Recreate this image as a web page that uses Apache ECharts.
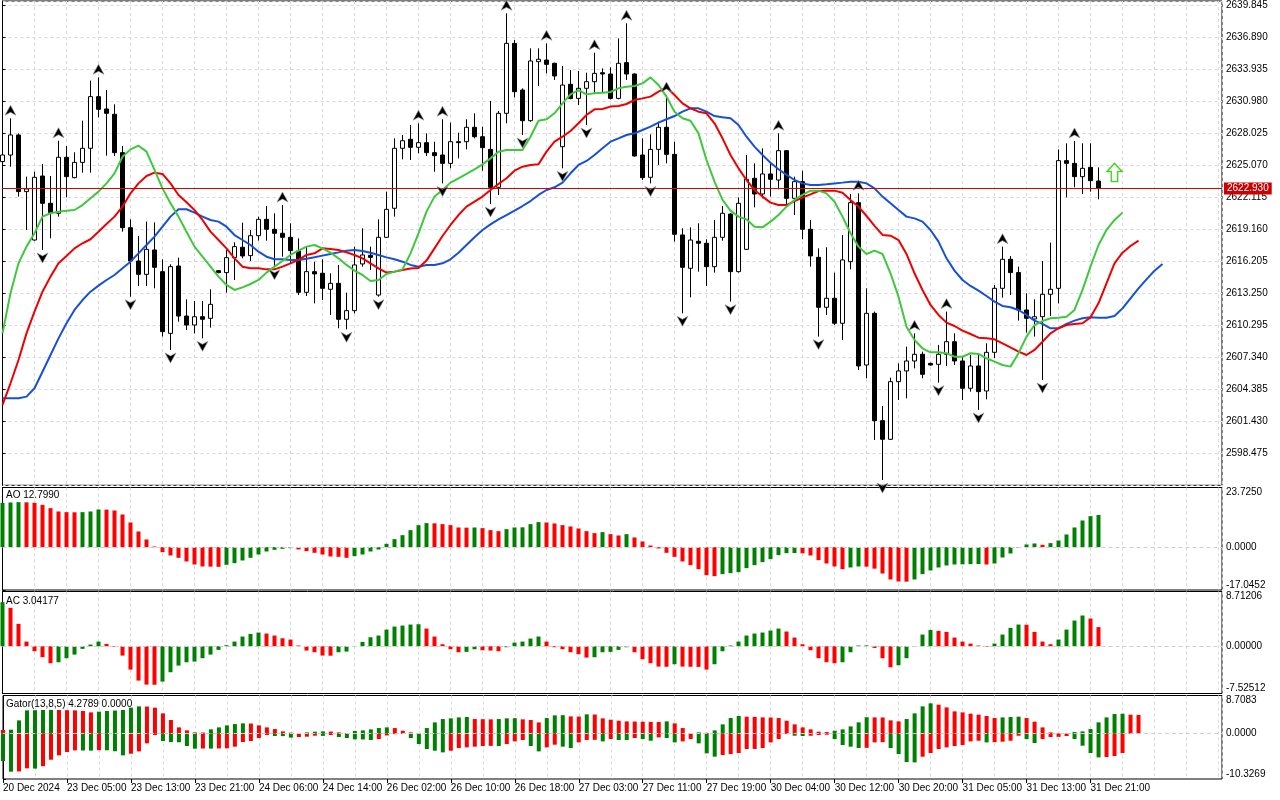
<!DOCTYPE html>
<html><head><meta charset="utf-8">
<script src="https://cdn.jsdelivr.net/npm/echarts@6/dist/echarts.min.js"></script>
<style>html,body{margin:0;padding:0;background:#fff}#c{width:1280px;height:800px}</style>
</head><body><div id="c"></div>
<script>
const tickLabels = ["20 Dec 2024","23 Dec 05:00","23 Dec 13:00","23 Dec 21:00","24 Dec 06:00","24 Dec 14:00","26 Dec 02:00","26 Dec 10:00","26 Dec 18:00","27 Dec 03:00","27 Dec 11:00","27 Dec 19:00","30 Dec 04:00","30 Dec 12:00","30 Dec 20:00","31 Dec 05:00","31 Dec 13:00","31 Dec 21:00"];

const opens = [2625.41,2626.02,2627.87,2622.64,2618.17,2624.08,2621.56,2620.64,2625.81,2623.93,
2625.34,2626.64,2631.41,2630.27,2629.78,2626.24,2619.31,2616.23,2615.00,2617.25,
2615.25,2609.55,2615.77,2611.15,2610.32,2611.09,2610.94,2615.34,2615.16,2616.54,
2617.50,2616.73,2618.57,2620.08,2619.16,2618.79,2618.42,2617.16,2613.34,2615.25,
2615.10,2613.62,2614.17,2610.85,2611.65,2615.96,2616.76,2613.09,2618.42,2621.10,
2626.64,2627.47,2626.73,2627.16,2626.24,2626.02,2625.25,2627.25,2627.25,2628.58,
2627.71,2626.54,2623.04,2629.87,2636.33,2632.02,2629.19,2634.64,2634.79,2634.49,
2626.79,2632.55,2631.25,2632.18,2632.79,2633.62,2633.50,2631.25,2634.55,2633.50,
2626.02,2623.96,2626.54,2628.58,2626.08,2618.64,2615.56,2618.05,2617.87,2615.71,
2618.42,2620.57,2615.25,2617.31,2623.87,2622.42,2624.27,2623.71,2626.42,2622.02,
2623.56,2619.16,2616.57,2611.96,2612.79,2610.48,2616.17,2621.62,2606.63,2611.40,
2601.49,2599.77,2605.09,2606.08,2607.00,2607.62,2606.78,2606.69,2607.62,2608.78,
2607.00,2604.48,2606.54,2604.23,2607.80,2613.71,2616.39,2615.16,2611.71,2610.88,
2611.09,2613.16,2613.71,2625.50,2625.25,2624.02,2624.88,2623.62];
const highs = [2626.33,2629.41,2628.02,2624.02,2624.48,2625.19,2624.08,2627.34,2626.85,2626.27,
2629.19,2632.89,2633.19,2632.02,2630.70,2626.85,2620.08,2618.54,2619.87,2619.80,
2616.39,2615.93,2616.54,2612.69,2612.54,2612.54,2613.62,2615.40,2617.25,2617.96,
2619.77,2619.10,2620.33,2621.31,2620.64,2621.40,2619.71,2618.33,2617.56,2616.17,
2616.39,2615.10,2615.87,2613.31,2617.56,2619.25,2617.56,2620.08,2622.64,2627.56,
2627.87,2628.79,2628.95,2628.02,2627.25,2629.32,2629.01,2628.08,2629.32,2629.87,
2628.64,2631.01,2630.08,2639.10,2636.64,2632.18,2635.87,2635.87,2636.33,2634.55,
2634.24,2633.87,2633.78,2633.62,2635.47,2634.02,2634.12,2636.79,2638.18,2633.56,
2627.56,2627.93,2629.10,2631.56,2627.25,2619.25,2619.34,2619.71,2618.24,2620.02,
2621.31,2620.64,2622.11,2626.02,2625.25,2626.64,2625.31,2628.02,2626.48,2624.02,
2624.57,2620.02,2617.40,2617.50,2615.16,2618.64,2622.42,2622.48,2613.71,2611.56,
2602.84,2605.46,2606.78,2608.32,2609.55,2607.86,2606.85,2608.48,2611.56,2609.55,
2607.40,2607.56,2607.56,2608.63,2614.02,2617.56,2616.70,2615.71,2613.25,2612.69,
2616.23,2617.93,2626.54,2627.10,2627.32,2627.10,2627.10,2624.88];
const lows = [2625.10,2624.94,2622.18,2619.09,2618.11,2617.25,2618.33,2620.33,2622.11,2623.87,
2624.39,2624.39,2629.50,2625.96,2625.93,2618.94,2612.94,2613.93,2613.93,2613.71,
2609.25,2608.02,2610.63,2609.86,2609.55,2609.09,2610.08,2615.10,2613.31,2614.48,
2616.48,2616.23,2618.11,2618.11,2615.71,2616.63,2616.02,2613.09,2613.00,2612.32,
2612.63,2611.25,2610.02,2609.92,2611.40,2615.71,2615.40,2612.94,2618.36,2620.33,
2625.62,2625.56,2626.18,2625.93,2624.48,2623.40,2624.79,2625.71,2626.54,2627.56,
2624.57,2621.50,2622.33,2628.95,2631.35,2627.87,2629.10,2632.39,2633.56,2632.95,
2624.79,2631.16,2630.64,2628.79,2631.78,2631.78,2631.16,2631.16,2632.95,2625.87,
2623.71,2623.40,2625.10,2625.25,2618.02,2611.40,2612.88,2615.25,2613.93,2615.16,
2618.11,2612.48,2615.16,2617.25,2621.19,2622.02,2622.18,2622.85,2621.50,2620.48,
2618.24,2615.71,2609.25,2611.25,2610.32,2608.94,2615.46,2606.17,2605.40,2599.71,
2596.01,2599.71,2603.40,2603.55,2606.32,2605.40,2606.57,2605.00,2606.54,2606.63,
2603.40,2604.17,2602.48,2603.46,2607.25,2612.85,2613.09,2610.73,2609.62,2609.25,
2605.24,2611.15,2612.32,2622.11,2623.04,2622.42,2622.64,2621.93];
const closes = [2626.02,2627.87,2622.64,2622.88,2623.96,2621.56,2620.70,2625.81,2624.02,2625.34,
2626.64,2631.41,2630.24,2629.87,2626.24,2619.31,2616.23,2615.00,2617.31,2615.65,
2609.71,2615.71,2611.15,2610.32,2611.09,2610.85,2612.23,2615.16,2616.54,2617.56,
2616.70,2618.57,2620.08,2619.16,2618.79,2618.42,2617.19,2613.34,2615.25,2615.04,
2613.71,2614.17,2610.85,2611.65,2615.87,2616.79,2616.57,2618.42,2621.00,2626.64,
2627.34,2626.73,2627.16,2626.24,2625.96,2625.25,2627.25,2627.16,2628.58,2627.71,
2626.70,2623.04,2629.87,2636.33,2631.87,2629.19,2634.70,2634.86,2634.39,2633.32,
2632.48,2631.25,2632.18,2632.79,2633.56,2633.50,2631.25,2634.49,2633.50,2625.93,
2623.93,2626.54,2628.58,2626.08,2618.70,2615.65,2618.17,2617.87,2615.71,2618.42,
2620.64,2615.25,2621.56,2623.78,2622.42,2624.27,2623.78,2626.42,2622.02,2623.56,
2619.16,2616.70,2611.96,2612.79,2610.48,2616.33,2621.62,2606.54,2611.40,2601.49,
2599.77,2605.09,2606.08,2607.00,2607.62,2605.77,2606.63,2607.62,2608.78,2607.00,
2604.48,2606.54,2604.17,2607.80,2613.71,2616.39,2615.16,2611.71,2610.94,2611.09,
2613.16,2613.62,2625.50,2625.25,2624.02,2624.79,2623.65,2622.93];

// Alligator lines as drawn (already shifted): jaw(blue), teeth(red), lips(green)
const jaw = [2603.55,2603.55,2603.55,2603.71,2604.48,2606.01,2607.55,2609.09,2610.48,2611.71,
2612.63,2613.40,2613.96,2614.48,2614.94,2615.56,2616.17,2616.94,2617.71,2618.48,
2619.40,2620.33,2621.01,2621.01,2620.70,2620.33,2620.02,2619.87,2619.40,2618.63,
2618.17,2617.71,2617.09,2616.63,2616.39,2616.39,2616.33,2616.33,2616.45,
2616.57,2616.73,2616.88,2617.03,2617.19,2617.25,2617.16,2617.00,2616.79,2616.57,
2616.39,2616.17,2615.87,2615.71,2615.87,2615.87,2616.02,2616.39,2617.00,2617.71,
2618.42,2619.10,2619.62,2620.08,2620.48,2620.89,2621.31,2621.77,2622.33,2622.79,
2623.04,2623.47,2624.33,2625.10,2625.47,2626.02,2626.64,2627.25,
2627.56,2627.87,2628.02,2628.33,2628.64,2629.01,2629.32,2629.62,2630.02,2630.33,
2630.33,2630.02,2629.62,2629.50,2629.41,2628.79,2627.71,2626.79,2626.02,2625.31,
2624.70,2624.18,2623.71,2623.40,2623.25,2623.25,2623.31,2623.40,2623.47,2623.56,
2623.56,2623.40,2622.94,2622.18,2621.56,2620.94,2620.33,2620.17,2619.87,
2619.10,2618.02,2616.48,2615.34,2614.48,2613.93,2613.49,2613.00,2612.48,2612.08,
2611.96,2611.71,2611.25,2610.73,2610.42,2610.02,2610.02,2610.42,2610.73,2610.94,
2611.03,2611.00,2611.00,2611.15,2611.86,2612.79,2613.71,2614.54,2615.34,2615.96];
const teeth = [2602.94,2604.94,2607.09,2609.55,2611.56,2613.40,2614.79,2616.02,2616.70,2617.40,
2617.87,2618.24,2618.94,2619.65,2620.33,2621.25,2622.48,2623.40,2624.08,2624.39,
2624.27,2623.40,2622.33,2621.65,2620.94,2620.02,2618.94,2618.17,2617.40,2616.48,
2615.71,2615.56,2615.56,2615.46,2615.46,2615.71,2616.02,2616.33,2616.79,
2616.94,2617.40,2617.34,2617.25,2617.03,2616.79,2616.48,2616.02,2615.56,2615.16,
2615.25,2615.40,2615.53,2615.59,2616.27,2617.40,2618.54,2619.56,2620.48,2621.25,
2621.71,2622.18,2622.79,2623.34,2623.87,2624.57,2624.94,2625.10,2625.16,2626.33,
2627.25,2627.71,2628.24,2628.95,2629.72,2630.24,2630.27,2630.49,
2630.55,2630.73,2631.10,2631.25,2631.41,2631.87,2632.27,2631.56,2630.79,2630.33,
2630.02,2629.87,2628.95,2627.56,2626.02,2624.79,2623.71,2622.79,2622.18,2621.62,
2621.40,2621.40,2621.77,2622.08,2622.39,2622.70,2622.73,2622.73,2622.54,2621.87,
2621.25,2620.39,2619.47,2618.64,2618.57,2618.17,2616.88,2615.10,2613.56,
2612.17,2611.25,2610.54,2610.23,2609.80,2609.49,2609.15,2609.09,2609.00,2608.63,
2608.26,2607.86,2607.55,2608.02,2608.78,2609.55,2610.02,2610.32,2610.42,2610.48,
2611.03,2612.32,2614.17,2616.02,2617.00,2617.62,2618.11];
const lips = [2609.55,2613.25,2616.02,2617.56,2618.79,2620.33,2620.64,2620.79,2620.88,2620.94,
2621.40,2622.02,2622.64,2623.40,2624.33,2625.87,2626.54,2626.88,2626.33,2624.64,
2622.94,2621.56,2620.33,2618.94,2617.56,2616.63,2615.71,2614.79,2614.02,2613.56,
2613.80,2614.11,2614.48,2615.16,2615.71,2616.23,2616.79,2617.19,2617.56,
2617.71,2617.40,2617.00,2616.48,2615.87,2615.34,2614.94,2614.39,2614.48,2615.03,
2615.25,2615.46,2616.94,2618.79,2620.79,2622.18,2622.79,2623.47,2623.87,2624.27,
2624.70,2625.16,2625.71,2626.33,2626.48,2626.48,2626.48,2627.71,2629.19,2629.32,
2629.87,2630.79,2631.62,2632.02,2631.62,2631.72,2631.78,2631.84,
2632.18,2632.33,2632.39,2632.64,2633.19,2632.49,2631.41,2630.02,2629.41,2629.19,
2628.02,2625.56,2623.56,2621.87,2620.88,2620.33,2620.08,2619.40,2619.34,2619.87,
2620.48,2621.25,2621.87,2622.33,2622.73,2622.73,2622.48,2621.71,2620.33,2618.79,
2617.56,2616.88,2617.19,2616.88,2615.10,2612.94,2610.17,2608.94,2608.17,
2607.80,2607.80,2607.71,2607.40,2607.40,2607.71,2607.65,2607.25,2606.94,2606.63,
2606.48,2607.71,2609.25,2610.32,2610.69,2610.94,2611.00,2611.09,2611.71,2613.56,
2615.71,2617.71,2619.10,2620.02,2620.70];

const upFractals = [1,7,12,35,52,55,63,68,74,78,83,97,107,114,118,125,134];
const downFractals = [5,16,21,25,34,43,47,55,61,65,70,73,81,85,91,102,110,117,122,130];
const signalIdx = [139];
const signalPrice = [2624.41];

const ao = [17.64,17.77,17.90,17.83,17.64,16.84,15.51,14.19,13.92,13.86,
13.92,14.19,14.98,14.92,14.59,12.99,9.81,6.23,3.05,0.27,
-1.99,-3.32,-4.24,-5.70,-6.90,-7.69,-7.76,-7.82,-7.03,-6.36,
-5.30,-4.24,-2.92,-1.72,-1.06,-0.66,-0.40,-0.93,-1.59,-2.25,
-2.92,-3.71,-3.85,-4.24,-3.58,-2.92,-1.72,-0.93,1.33,3.18,
4.77,6.76,8.75,9.55,9.48,9.15,8.75,7.82,7.76,7.82,
7.56,6.76,6.36,7.16,7.82,7.89,9.15,9.95,9.81,9.41,
8.75,8.22,7.43,6.36,5.57,5.97,5.17,4.64,5.17,3.85,
2.25,0.66,-0.53,-2.25,-3.85,-5.70,-7.16,-8.75,-11.14,-11.54,
-10.74,-10.34,-9.95,-8.35,-7.16,-5.97,-4.77,-3.18,-2.39,-2.32,
-2.45,-3.32,-5.17,-6.50,-7.69,-8.75,-8.09,-7.69,-7.76,-8.55,
-10.48,-12.86,-13.66,-13.72,-12.86,-10.74,-9.28,-8.09,-7.29,-6.90,
-6.83,-6.76,-6.70,-6.90,-6.50,-4.11,-2.52,-0.27,1.06,1.46,
0.93,1.59,2.65,5.04,7.82,10.61,12.33,12.799];
const ac = [7.01,6.11,3.56,0.74,-0.80,-1.75,-2.71,-2.55,-1.91,-1.33,
-0.42,0.27,0.74,0.37,-0.11,-1.49,-3.72,-5.47,-6.11,-6.13,
-5.63,-4.14,-3.08,-2.55,-2.44,-1.91,-1.33,-0.58,0.16,0.74,
1.54,1.96,2.18,2.02,1.70,1.27,1.06,0.11,-0.69,-0.96,
-1.49,-1.51,-0.96,-0.85,-0.05,0.69,1.43,1.70,2.65,3.13,
3.29,3.45,3.50,2.81,1.54,0.32,-0.48,-0.96,-0.90,-0.48,
-0.64,-0.69,-0.80,-0.16,0.58,0.74,1.22,1.54,0.74,-0.16,
-0.48,-0.96,-1.27,-1.81,-1.75,-0.96,-0.90,-0.58,-0.16,-0.96,
-2.07,-2.71,-3.24,-3.27,-2.87,-3.24,-3.27,-3.29,-3.72,-2.87,
-0.80,0.11,0.74,1.70,2.02,2.18,2.50,2.81,2.34,1.38,
0.32,-0.64,-1.91,-2.55,-2.71,-2.55,-0.96,0.11,0.13,-0.27,
-1.91,-3.35,-3.03,-1.91,-0.11,1.86,2.60,2.44,2.28,1.38,
0.74,0.42,0.11,-0.11,0.42,1.86,2.92,3.45,3.42,2.28,
0.74,0.32,1.06,2.65,4.09,4.89,4.41,3.04177];
const gatorUp = [0.84,0.91,3.04,5.32,5.36,5.40,5.43,5.40,5.36,5.32,
5.17,4.86,5.02,5.17,5.28,5.40,5.93,6.23,6.19,5.93,
4.64,3.12,1.44,0.76,0.30,0.27,0.99,1.44,1.90,2.20,
2.36,2.32,1.90,1.44,1.06,0.53,0.23,0.08,0.30,0.46,
0.53,0.49,0.30,0.15,0.61,0.76,0.99,1.29,1.44,1.29,
0.68,0.30,0.05,1.29,2.58,3.34,3.50,3.72,3.80,3.34,
3.31,3.27,3.34,3.50,3.53,3.27,3.12,2.58,3.57,4.18,
4.22,3.95,3.91,4.41,4.37,3.50,3.19,2.96,2.81,2.77,
2.74,2.70,2.66,2.81,2.36,1.29,0.15,0.31,0.20,0.76,
2.13,3.57,4.03,3.88,3.84,3.72,3.69,3.57,2.96,2.13,
1.44,0.99,0.46,0.38,0.68,0.99,1.67,2.58,3.76,3.72,
3.70,3.04,2.81,3.34,4.64,6.23,6.92,6.61,6.00,5.09,
4.86,4.56,4.33,4.03,3.57,3.72,3.80,3.88,3.57,2.74,
1.44,0.30,0.08,0.04,0.38,0.53,1.06,2.58,3.72,4.48,
4.56,4.33,4.2789];
const gatorDown = [-6.23,-8.66,-8.60,-7.90,-7.95,-7.40,-5.93,-4.94,-4.18,-3.80,
-3.83,-3.86,-3.75,-3.78,-4.00,-4.94,-4.56,-4.03,-2.20,-0.30,
-1.67,-1.90,-1.95,-2.81,-3.42,-3.38,-3.40,-3.36,-3.34,-2.96,
-1.90,-1.67,-0.99,-0.30,-0.53,-0.55,-0.90,-0.76,-0.68,-0.46,
-0.50,-0.30,-0.76,-0.99,-1.29,-1.32,-1.44,-1.22,-0.40,-0.10,
-0.05,-0.99,-2.36,-3.50,-3.88,-4.26,-3.88,-3.27,-3.12,-2.96,
-2.81,-2.78,-2.83,-2.36,-1.75,-1.44,-2.81,-4.03,-3.12,-2.51,
-2.96,-3.27,-1.98,-1.44,-1.40,-1.75,-1.22,-1.44,-1.46,-0.99,
-1.22,-1.60,-0.84,-0.99,-1.98,-1.75,-1.22,-2.20,-4.48,-5.24,
-4.86,-4.64,-4.41,-3.50,-3.48,-3.27,-1.98,-1.22,-0.08,-0.46,
-0.53,-0.46,-0.30,-0.23,-1.22,-2.58,-2.96,-3.27,-3.23,-1.98,
-1.94,-3.27,-4.64,-6.46,-6.54,-5.24,-4.41,-3.50,-3.12,-2.81,
-2.58,-1.75,-1.60,-1.98,-1.94,-1.82,-1.60,-0.46,-1.22,-2.13,
-1.22,-0.76,-0.72,-0.53,-1.22,-2.74,-4.41,-5.40,-5.32,-5.09,
-4.41];

const priceAxis = {min: 2595.520, max: 2640.242, step: 2.955};
const aoAxis = {min: -17.0452, max: 23.7250};
const acAxis = {min: -7.52512, max: 8.71206};
const gatorAxis = {min: -10.3269, max: 8.7083};

// ---------------------------------------------------------------
const GREEN = '#008000', RED = '#ff0000';
const FONT = '"Liberation Sans", Arial, sans-serif';
const X_MIN = 0, X_MAX = 152.4375;
const GRID_L = 2.5, GRID_R = 58;
const grids = [
  {left: GRID_L, right: GRID_R, top: 1, height: 484.3},
  {left: GRID_L, right: GRID_R, top: 487.5, height: 102.5},
  {left: GRID_L, right: GRID_R, top: 591.5, height: 102},
  {left: GRID_L, right: GRID_R, top: 695.5, height: 83.5}
].map(g => Object.assign(g, {show: true, borderColor: '#000', borderWidth: 1, backgroundColor: 'transparent'}));

const splitStyle = {show: true, lineStyle: {color: '#d9d9d9', type: [3, 3], width: 1}};
const labelIdx = tickLabels.map((_, i) => i * 8);

const xAxes = [0, 1, 2, 3].map(g => ({
  type: 'value', gridIndex: g, min: X_MIN, max: X_MAX, interval: 4, position: 'bottom',
  axisLine: {show: false}, axisTick: {show: false}, axisLabel: {show: false},
  splitLine: splitStyle
}));
xAxes.push({
  type: 'value', gridIndex: 3, min: X_MIN, max: X_MAX, interval: 8, position: 'bottom',
  axisLine: {show: false},
  axisTick: {show: true, length: 4, customValues: labelIdx, lineStyle: {color: '#000'}},
  axisLabel: {show: true, customValues: labelIdx, align: 'left', margin: 4, color: '#000', fontSize: 10, fontFamily: FONT,
    formatter: v => (v % 8 === 0 && tickLabels[v / 8]) ? tickLabels[v / 8] : ''},
  splitLine: {show: false}
});

function subY(gi, rng, dec) {
  const vals = [rng.min, 0, rng.max];
  return {
    type: 'value', gridIndex: gi, position: 'right', min: rng.min, max: rng.max, scale: true,
    axisLine: {show: true, lineStyle: {color: '#000'}},
    axisTick: {show: true, length: 3, customValues: vals, lineStyle: {color: '#000'}},
    axisLabel: {show: true, customValues: vals, margin: 4, color: '#000', fontSize: 10, fontFamily: FONT,
      verticalAlignMinLabel: 'bottom', verticalAlignMaxLabel: 'top',
      formatter: v => (Math.abs(v) < 1e-9 ? 0 : v).toFixed(dec)},
    splitLine: {show: false}
  };
}
const yAxes = [
  {type: 'value', gridIndex: 0, position: 'right', min: priceAxis.min, max: priceAxis.max, interval: priceAxis.step,
   axisLine: {show: true, lineStyle: {color: '#000'}},
   axisTick: {show: true, length: 3, lineStyle: {color: '#000'}},
   axisLabel: {show: true, margin: 4, color: '#000', fontSize: 10, fontFamily: FONT, showMinLabel: false, showMaxLabel: false,
     formatter: v => v.toFixed(3)},
   splitLine: splitStyle},
  subY(1, aoAxis, 4),
  subY(2, acAxis, 5),
  subY(3, gatorAxis, 4)
];

function colorByRise(arr, firstColor, useAbs) {
  return arr.map((v, i) => {
    let c;
    if (i === 0) c = firstColor;
    else {
      const a = useAbs ? Math.abs(v) : v, b = useAbs ? Math.abs(arr[i - 1]) : arr[i - 1];
      c = a > b ? GREEN : RED;
    }
    return {value: [i, v], itemStyle: {color: c}};
  });
}
const zeroLine = {silent: true, symbol: 'none', animation: false, label: {show: false},
  lineStyle: {color: '#cfcfcf', type: [4, 3], width: 1}, data: [{yAxis: 0}]};

const last = closes.length - 1;
const upPath = 'path://M5,0 L10,10 L5,7 L0,10 Z';
const downPath = 'path://M0,0 L5,3 L10,0 L5,10 Z';

const series = [
  {type: 'candlestick', xAxisIndex: 0, yAxisIndex: 0, barWidth: 5, z: 2,
   data: opens.map((o, i) => [i, o, closes[i], lows[i], highs[i]]),
   itemStyle: {color: '#ffffff', color0: '#000000', borderColor: '#000000', borderColor0: '#000000', borderWidth: 1},
   markLine: {silent: true, symbol: 'none', animation: false,
     lineStyle: {color: '#e00000', width: 1, type: 'solid'},
     label: {show: true, position: 'end', distance: 2, formatter: () => closes[last].toFixed(3),
       backgroundColor: '#cc0000', color: '#fff', padding: [1, 3, 1, 3], fontSize: 10, fontFamily: FONT},
     data: [{yAxis: closes[last]}]}},
  {type: 'line', name: 'Jaw', xAxisIndex: 0, yAxisIndex: 0, showSymbol: false, z: 4,
   data: jaw.map((v, i) => [i, v]), lineStyle: {color: '#1650d8', width: 2}},
  {type: 'line', name: 'Teeth', xAxisIndex: 0, yAxisIndex: 0, showSymbol: false, z: 4,
   data: teeth.map((v, i) => [i, v]), lineStyle: {color: '#ee0000', width: 2}},
  {type: 'line', name: 'Lips', xAxisIndex: 0, yAxisIndex: 0, showSymbol: false, z: 4,
   data: lips.map((v, i) => [i, v]), lineStyle: {color: '#3ec83e', width: 2}},
  {type: 'scatter', xAxisIndex: 0, yAxisIndex: 0, z: 5, symbol: upPath, symbolSize: [11, 10], symbolOffset: [0, -8],
   itemStyle: {color: '#000000', opacity: 1, borderColor: '#9a9a9a', borderWidth: 0.6},
   data: upFractals.map(i => [i, highs[i]])},
  {type: 'scatter', xAxisIndex: 0, yAxisIndex: 0, z: 5, symbol: downPath, symbolSize: [11, 10], symbolOffset: [0, 8],
   itemStyle: {color: '#000000', opacity: 1, borderColor: '#9a9a9a', borderWidth: 0.6},
   data: downFractals.map(i => [i, lows[i]])},
  {type: 'scatter', xAxisIndex: 0, yAxisIndex: 0, z: 5,
   symbol: 'path://M7,0 L14,8 L10,8 L10,18 L4,18 L4,8 L0,8 Z', symbolSize: [15, 18],
   itemStyle: {color: '#f6fff2', opacity: 1, borderColor: '#4fcf2f', borderWidth: 1.5},
   data: signalIdx.map((k, j) => [k, signalPrice[j]])},
  {type: 'bar', xAxisIndex: 1, yAxisIndex: 1, barWidth: 4, barGap: '-100%', data: colorByRise(ao, GREEN, false), markLine: zeroLine},
  {type: 'bar', xAxisIndex: 2, yAxisIndex: 2, barWidth: 4, barGap: '-100%', data: colorByRise(ac, GREEN, false), markLine: zeroLine},
  {type: 'bar', xAxisIndex: 3, yAxisIndex: 3, barWidth: 4, barGap: '-100%', data: colorByRise(gatorUp, RED, false)},
  {type: 'bar', xAxisIndex: 3, yAxisIndex: 3, barWidth: 4, barGap: '-100%', data: colorByRise(gatorDown, GREEN, true), markLine: zeroLine}
];

const gLast = gatorUp.length - 1;
const gDownLast = gatorDown[gLast] !== undefined ? gatorDown[gLast] : 0;
const graphic = [
  {type: 'text', left: 6, top: 490, z: 100, style: {text: 'AO ' + ao[ao.length - 1].toFixed(4), font: '10px ' + FONT, fill: '#000'}},
  {type: 'text', left: 6, top: 596, z: 100, style: {text: 'AC ' + ac[ac.length - 1].toFixed(5), font: '10px ' + FONT, fill: '#000'}},
  {type: 'text', left: 6, top: 699, z: 100, style: {text: 'Gator(13,8,5) ' + gatorUp[gLast].toFixed(4) + ' ' + Math.abs(gDownLast).toFixed(4), font: '10px ' + FONT, fill: '#000'}}
];

const chart = echarts.init(document.getElementById('c'), null, {renderer: 'canvas'});
chart.setOption({
  animation: false,
  backgroundColor: '#ffffff',
  textStyle: {fontFamily: FONT},
  grid: grids,
  xAxis: xAxes,
  yAxis: yAxes,
  series: series,
  graphic: graphic
});
</script>
</body></html>
